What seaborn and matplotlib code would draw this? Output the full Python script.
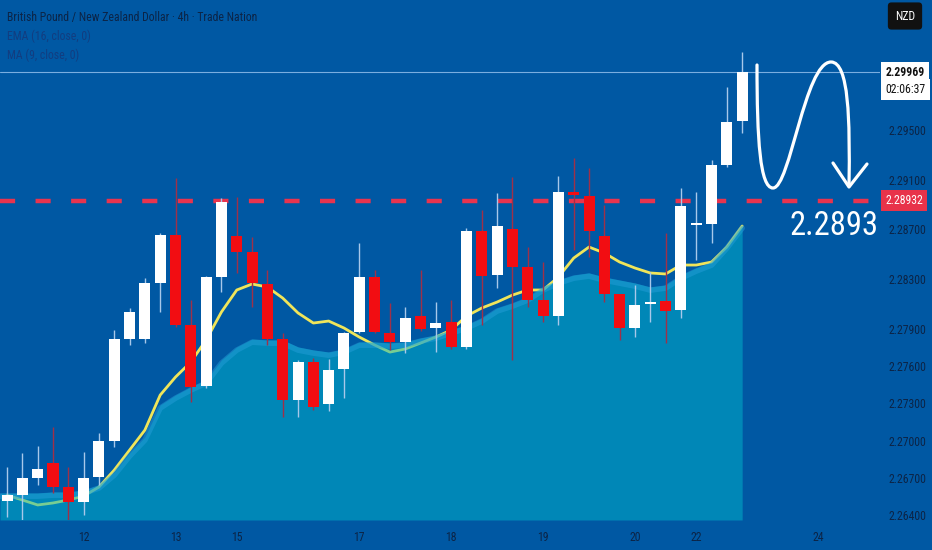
import numpy as np
import pandas as pd
import matplotlib
matplotlib.use("Agg")
import matplotlib.pyplot as plt
import matplotlib.transforms as mtransforms
import seaborn as sns
from matplotlib.path import Path
from matplotlib.patches import PathPatch

# GBP/NZD 4h candles
opens = [2.26515, 2.26561, 2.26698, 2.26819, 2.26625, 2.26505, 2.26706, 2.26996, 2.27817, 2.27817,
         2.28268, 2.28655, 2.27930, 2.27439, 2.28316, 2.28647, 2.28518, 2.28260, 2.27817, 2.27326,
         2.27632, 2.27294, 2.27576, 2.27874, 2.28316, 2.27866, 2.27793, 2.28002, 2.27906, 2.27954,
         2.27753, 2.28687, 2.28332, 2.28703, 2.28397, 2.28131, 2.28002, 2.29001, 2.28969, 2.28647,
         2.28180, 2.27906, 2.28099, 2.28123, 2.28051, 2.28735, 2.28743, 2.29218, 2.29572]
highs = [2.26786, 2.26899, 2.26956, 2.27109, 2.26786, 2.26907, 2.27060, 2.27890, 2.28067, 2.28308,
         2.28671, 2.29114, 2.28131, 2.28324, 2.28953, 2.28961, 2.28639, 2.28373, 2.27866, 2.27648,
         2.27664, 2.27656, 2.27874, 2.28590, 2.28373, 2.28107, 2.28075, 2.28373, 2.28115, 2.28131,
         2.28711, 2.28856, 2.28993, 2.29122, 2.28558, 2.28437, 2.29130, 2.29275, 2.29194, 2.28896,
         2.28180, 2.28252, 2.28357, 2.28671, 2.29033, 2.29001, 2.29258, 2.29846, 2.30128]
lows = [2.26384, 2.26360, 2.26642, 2.26577, 2.26360, 2.26400, 2.26642, 2.26948, 2.27769, 2.27785,
        2.28035, 2.27914, 2.27310, 2.27423, 2.28196, 2.28349, 2.28075, 2.27769, 2.27189, 2.27189,
        2.27246, 2.27237, 2.27342, 2.27866, 2.27866, 2.27729, 2.27704, 2.27882, 2.27712, 2.27737,
        2.27737, 2.27930, 2.28228, 2.27648, 2.28075, 2.27954, 2.27930, 2.28534, 2.28477, 2.28115,
        2.27809, 2.27833, 2.27954, 2.27785, 2.27986, 2.28453, 2.28590, 2.29202, 2.29476]
closes = [2.26561, 2.26698, 2.26770, 2.26625, 2.26505, 2.26698, 2.26996, 2.27817, 2.28035, 2.28268,
          2.28655, 2.27930, 2.27431, 2.28316, 2.28920, 2.28518, 2.28268, 2.27817, 2.27326, 2.27632,
          2.27270, 2.27568, 2.27866, 2.28316, 2.27874, 2.27793, 2.27986, 2.27898, 2.27946, 2.27753,
          2.28687, 2.28324, 2.28727, 2.28397, 2.28131, 2.28002, 2.29001, 2.28977, 2.28687, 2.28180,
          2.27906, 2.28091, 2.28115, 2.28043, 2.28888, 2.28751, 2.29218, 2.29564, 2.29969]

# yellow moving average line
ema_line = [2.26561, 2.26521, 2.26481, 2.26497, 2.26521, 2.26553, 2.26625, 2.26762, 2.26923, 2.27084,
            2.27366, 2.27511, 2.27632, 2.27809, 2.28035, 2.28212, 2.28260, 2.28236, 2.28147, 2.28027,
            2.27946, 2.27962, 2.27906, 2.27833, 2.27769, 2.27712, 2.27737, 2.27785, 2.27833, 2.27890,
            2.28002, 2.28067, 2.28115, 2.28171, 2.28212, 2.28212, 2.28316, 2.28469, 2.28558, 2.28510,
            2.28437, 2.28389, 2.28349, 2.28341, 2.28413, 2.28413, 2.28437, 2.28558, 2.28727]
# filled area average
ma_area = [2.26577, 2.26577, 2.26577, 2.26585, 2.26585, 2.26601, 2.26642, 2.26746, 2.26899, 2.27028,
           2.27286, 2.27366, 2.27431, 2.27487, 2.27648, 2.27753, 2.27817, 2.27809, 2.27809, 2.27753,
           2.27729, 2.27712, 2.27737, 2.27793, 2.27793, 2.27785, 2.27793, 2.27825, 2.27849, 2.27890,
           2.27930, 2.27986, 2.28067, 2.28107, 2.28155, 2.28236, 2.28292, 2.28332, 2.28349, 2.28316,
           2.28292, 2.28268, 2.28236, 2.28252, 2.28332, 2.28389, 2.28437, 2.28574, 2.28735]

day_pos = [5, 11, 15, 23, 29, 35, 41, 45, 53]
day_labels = ["12", "13", "15", "17", "18", "19", "20", "22", "24"]
price_ticks = [2.264, 2.267, 2.270, 2.273, 2.276, 2.279, 2.283, 2.287, 2.291, 2.295]
target_level = 2.28932
target_text = "2.2893"
countdown = "02:06:37"
title = "British Pound / New Zealand Dollar \u00b7 4h \u00b7 Trade Nation"
legend_lines = ["EMA (16, close, 0)", "MA (9, close, 0)"]

BG = "#0058a3"
NAVY = "#0c2446"

sns.set_theme(style="white")
plt.rcParams["font.family"] = ["Roboto Condensed", "Open Sans Condensed", "Liberation Sans Narrow", "DejaVu Sans"]

df = pd.DataFrame({"i": np.arange(len(opens)), "open": opens, "high": highs,
                   "low": lows, "close": closes, "ema": ema_line, "ma": ma_area})
up = df["close"] >= df["open"]

fig = plt.figure(figsize=(9.32, 5.5), dpi=100, facecolor=BG)
ax = fig.add_axes([0, 30 / 550, 880 / 932, 520 / 550])
ax.set_facecolor(BG)
x0, x1 = -0.46, 57.0
y0, y1 = 2.2636, 2.30547
ax.set_xlim(x0, x1)
ax.set_ylim(y0, y1)

# moving average line under the translucent area
sns.lineplot(data=df, x="i", y="ema", ax=ax, color="#f0e55a", lw=2.0, zorder=2, legend=False)
xa = np.r_[x0, df["i"]]
ya = np.r_[df["ma"].iloc[0], df["ma"]]
ax.fill_between(xa, ya, y0, color="#00b6cb", alpha=0.5, lw=0, zorder=3)
ax.plot(xa, ya - 0.00025, color="#29a0dc", lw=4, alpha=0.45, zorder=3.1)

# lines
ax.axhline(closes[-1], color="#7aaee0", lw=0.8, zorder=1.5)
ax.axhline(target_level, color="#e8344e", lw=3.2, dashes=(3.4, 4.6), zorder=3.5)

# candles
ax.vlines(df["i"], df["low"], df["high"], colors=np.where(up, "#a8c8ea", "#a03048"), lw=1, zorder=4)
body = (df["close"] - df["open"]).abs().clip(lower=0.00002)
ax.bar(df["i"], body, bottom=df[["open", "close"]].min(axis=1), width=0.72,
       color=np.where(up, "#ffffff", "#f20d12"), lw=0, zorder=5)

for s in ax.spines.values():
    s.set_visible(False)
ax.grid(False)
ax.yaxis.tick_right()
ax.set_yticks(price_ticks, [f"{v:.5f}" for v in price_ticks])
ax.set_xticks(day_pos, day_labels)
ax.tick_params(axis="y", length=0, pad=6, labelsize=8.5, labelcolor=NAVY)
ax.tick_params(axis="x", length=0, pad=8, labelsize=8.5, labelcolor=NAVY)
ax.set_xlabel("")
ax.set_ylabel("")

trans = mtransforms.blended_transform_factory(ax.transAxes, ax.transData)
ax.text(1 + 5 / 880, target_level, f"{target_level:.5f}", transform=trans, ha="left", va="center",
        color="white", fontsize=8.5, clip_on=False,
        bbox=dict(boxstyle="square,pad=0.35", fc="#e8334a", ec="none"))
ax.annotate(f"{closes[-1]:.5f}", xy=(1, closes[-1]), xycoords=trans,
            xytext=(4, 4), textcoords="offset points", ha="left", va="top",
            color="#111111", fontsize=8.5, fontweight="bold", annotation_clip=False, zorder=8,
            bbox=dict(boxstyle="square,pad=0.35", fc="white", ec="none"))
ax.annotate(countdown, xy=(1, closes[-1]), xycoords=trans,
            xytext=(4, -8), textcoords="offset points", ha="left", va="top",
            color="#111111", fontsize=8.5, annotation_clip=False, zorder=8,
            bbox=dict(boxstyle="square,pad=0.35", fc="white", ec="none"))

# header texts
fig.text(7 / 932, 1 - 17 / 550, title, va="center", ha="left", fontsize=8.5, color=NAVY)
for k, t in enumerate(legend_lines):
    fig.text(7 / 932, 1 - (36 + 19 * k) / 550, t, va="center", ha="left", fontsize=8.5, color="#123d80")
fig.text(905 / 932, 1 - 16 / 550, "NZD", ha="center", va="center", fontsize=8.5, color="white",
         bbox=dict(boxstyle="round,pad=0.6,rounding_size=0.3", fc="#111111", ec="none"))

# hand drawn forecast arrow, in pixel space overlay
ov = fig.add_axes([0, 0, 1, 1])
ov.set_xlim(0, 932)
ov.set_ylim(550, 0)
ov.axis("off")
ov.patch.set_alpha(0)
verts = [(757, 65), (757, 140), (760, 188), (773, 188),
         (790, 188), (805, 62), (831, 62),
         (849, 62), (850, 120), (849, 186)]
codes = [Path.MOVETO] + [Path.CURVE4] * 9
ov.add_patch(PathPatch(Path(verts, codes), fill=False, ec="white", lw=2.3, capstyle="round"))
ov.plot([833, 849, 867], [163, 187, 164], color="white", lw=2.3, solid_capstyle="round")
ov.text(834, 226, target_text, ha="center", va="center", fontsize=23.5, color="white")

fig.savefig("out.png", dpi=100, facecolor=BG)
